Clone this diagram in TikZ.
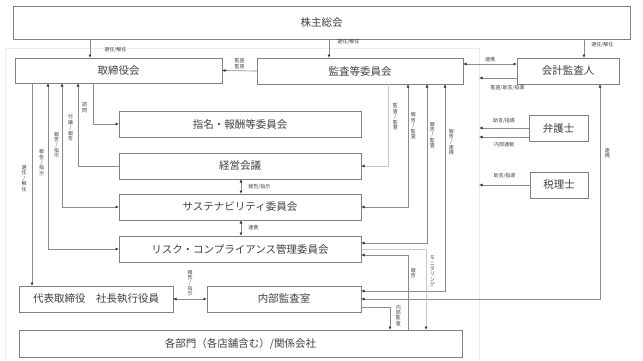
\documentclass[tikz,border=0pt]{standalone}
\usepackage{fontspec}
\setmainfont{Noto Sans CJK JP}
\usetikzlibrary{positioning, arrows.meta, calc}
\definecolor{lineGray}{RGB}{140,140,140}
\definecolor{boxGray}{RGB}{128,128,128}
\definecolor{txtGray}{RGB}{64,64,64}
\definecolor{lineBlue}{RGB}{185,205,225}
\definecolor{frameGray}{RGB}{236,236,236}
\tikzset{
  org/.style={rectangle, draw=boxGray, line width=0.8pt, fill=white, text=txtGray,
    minimum height=26pt, inner sep=0pt, outer sep=0pt, font=\fontsize{10.5}{12}\selectfont},
  lab/.style={font=\fontsize{5}{5.4}\selectfont, text=txtGray, inner sep=0pt, align=center},
  link/.style={-{Latex[length=3.5pt,width=3pt,color=black!80]}, line width=0.7pt, draw=lineGray},
  both/.style={{Latex[length=3.5pt,width=3pt,color=black!80]}-{Latex[length=3.5pt,width=3pt,color=black!80]},
    line width=0.7pt, draw=lineGray},
  frame/.style={draw=frameGray, line width=0.6pt},
}

\begin{document}
\begin{tikzpicture}[x=1pt, y=-1pt]
    \useasboundingbox (0,0) rectangle (643,360);
    \draw[frame] (5,360) |- (479,48) -- (479,360);
    % boxes
    \node[org, minimum width=617pt, minimum height=33pt] (share) at (321.5,22.5) {株主総会};
    \node[org, minimum width=207pt, minimum height=25pt] (board) at (118.5,70.5) {取締役会};
    \node[org, minimum width=206pt] (audit) at (360,71) {監査等委員会};
    \node[org, minimum width=102pt] (acc) at (568,71) {会計監査人};
    \node[org, minimum width=242pt] (nom) at (240,124) {指名・報酬等委員会};
    \node[org, minimum width=242pt, below=16pt of nom] (mgmt) {経営会議};
    \node[org, minimum width=242pt, below=15pt of mgmt] (sus) {サステナビリティ委員会};
    \node[org, minimum width=242pt, below=16pt of sus] (risk) {リスク・コンプライアンス管理委員会};
    \node[org, minimum width=154pt] (ceo) at (96,299) {代表取締役　社長執行役員};
    \node[org, minimum width=154pt] (ia) at (284,299) {内部監査室};
    \node[org, minimum width=443pt, minimum height=27pt] (dept) at (240.5,343.5) {各部門（各店舗含む）/関係会社};
    \node[org, minimum width=59pt] (lawyer) at (558.5,128) {弁護士};
    \node[org, minimum width=58pt] (tax) at (559,185) {税理士};
    % line columns
    \foreach \c/\x in {cL/90, cM/329, cR/584, vA/32, vB/48, vC/62, vD/78, vE/93, mid/241,
        wA/388, wB/408, wC/427, wD/445, wF/426, wG/390, wH/600, ext/479}
      \coordinate (\c) at (\x,0);
    % shareholders
    \draw[link] (share.south -| cL) -- (board.north -| cL) node[lab, pos=0.58, right=14pt] {選任/解任};
    \draw[link] (share.south -| cM) -- (audit.north -| cM) node[lab, pos=0.16, right=8pt] {選任/解任};
    \draw[link] (share.south -| cR) -- (acc.north -| cR) node[lab, pos=0.3, right=7pt] {選任/解任};
    % audit committee
    \draw[link] (audit.west) -- (board.east) node[midway, lab, above=2pt] {監査\\監督};
    \draw[both] ([yshift=7pt]audit.east) -- ([yshift=7pt]acc.west) node[midway, lab, above=1.5pt] {連携};
    \draw[link, draw=lineBlue] (audit.south -| wA) |- (mgmt.east) node[lab, pos=0.2, right=4.5pt] {監\\査\\/\\監\\督};
    \draw[both] (audit.south -| wB) |- (sus.east) node[lab, pos=0.17, right=2.5pt] {報\\告\\/\\監\\査};
    \draw[both] (audit.south -| wC) |- ([yshift=6pt]risk.east) node[lab, pos=0.16, right=2.5pt] {報\\告\\/\\監\\査};
    \draw[both] (audit.south -| wD) |- ([yshift=8pt]ia.east) node[lab, pos=0.14, right=3.5pt] {報\\告\\/\\連\\携};
    % outside experts
    \draw[link] ([yshift=-7pt]acc.west) -- ([yshift=-7pt]acc.west -| ext) node[lab, pos=0.25, below=7pt] {監査/助言/指導};
    \draw[link] (lawyer.west) -- (lawyer.west -| ext) node[midway, lab, above=4.5pt] {助言/指導};
    \draw[link] ([yshift=-9pt]lawyer.west) -- ([yshift=-9pt]lawyer.west -| ext) node[midway, lab, below=5pt] {内部通報};
    \draw[link] (tax.west) -- (tax.west -| ext) node[midway, lab, above=6.5pt] {助言/指導};
    \draw[both] (ia.east) -- (ia.east -| wH) -- (acc.south -| wH) node[lab, pos=0.68, right=4.5pt] {連\\携};
    % risk / internal audit
    \draw[link, draw=lineBlue] (risk.east) -| (dept.north -| wF) node[lab, pos=0.64, right=3.5pt] {モ\\ニ\\タ\\リ\\ン\\グ};
    \draw[link] (dept.north -| wB) |- ([yshift=-6pt]risk.east) node[lab, pos=0.38, right=2.5pt] {報\\告};
    \draw[link] ([yshift=-8pt]ia.east) -| (dept.north -| wG) node[lab, pos=0.68, right=5.5pt] {内\\部\\監\\査};
    \draw[both] (ceo.east) -- (ia.west) node[midway, lab, above=2.5pt] {報\\告\\/\\指\\示};
    \draw[both] (mgmt.south -| mid) -- (sus.north -| mid) node[midway, lab, right=7pt] {報告/指示};
    \draw[both] (sus.south -| mid) -- (risk.north -| mid) node[midway, lab, right=7pt] {連携};
    % board
    \draw[link] (board.south -| vA) -- (ceo.north -| vA) node[lab, pos=0.47, left=5pt] {選\\任\\/\\解\\任};
    \draw[both] (board.south -| vB) |- (risk.west) node[lab, pos=0.24, left=3.5pt] {報\\告\\/\\指\\示};
    \draw[both] (board.south -| vC) |- (sus.west) node[lab, pos=0.25, left=2.5pt] {報\\告\\/\\指\\示};
    \draw[link] (mgmt.west) -| (board.south -| vD) node[lab, pos=0.73, left=4.5pt] {付\\議\\/\\報\\告};
    \draw[link] (board.south -| vE) |- (nom.west) node[lab, pos=0.3, left=5.5pt] {諮\\問};
\end{tikzpicture}
\end{document}
